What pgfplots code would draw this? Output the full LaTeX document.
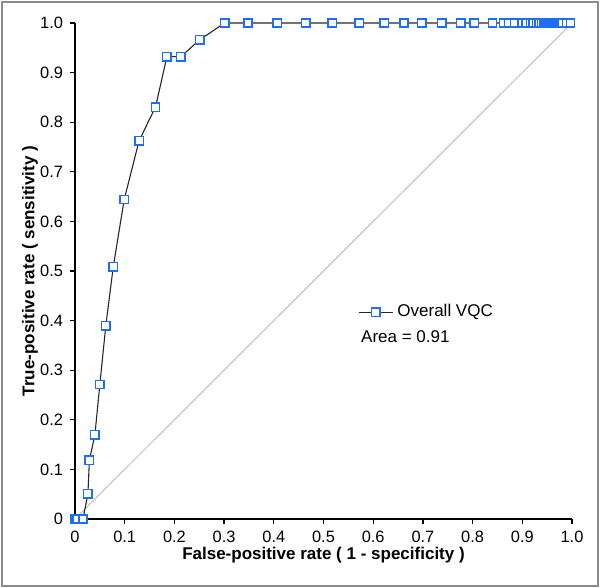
\documentclass[border=0pt]{standalone}
\usepackage{pgfplots}
\pgfplotsset{compat=1.18}
\usepackage{fontspec}
\setmainfont{Liberation Sans}
\definecolor{mk}{RGB}{30,110,245}
\definecolor{frame}{RGB}{140,140,140}
\begin{document}
\begin{tikzpicture}[x=1pt,y=1pt]
\path[use as bounding box] (-37.5,-34.5) rectangle (262.5,259.5);
\draw[frame, line width=1pt] (-36.5,-33.5) rectangle (261.5,258.5);
\begin{axis}[
  at={(0,0)}, anchor=south west,
  scale only axis, width=248.5pt, height=248pt,
  xmin=0, xmax=1, ymin=0, ymax=1,
  axis lines*=left, axis line style={-, line width=0.8pt},
  clip=false,
  tick align=outside, major tick length=2.5pt,
  tick style={black, line width=0.6pt},
  xtick={0,0.1,0.2,0.3,0.4,0.5,0.6,0.7,0.8,0.9,1},
  ytick={0,0.1,0.2,0.3,0.4,0.5,0.6,0.7,0.8,0.9,1},
  xticklabels={0,0.1,0.2,0.3,0.4,0.5,0.6,0.7,0.8,0.9,1.0},
  yticklabels={0,0.1,0.2,0.3,0.4,0.5,0.6,0.7,0.8,0.9,1.0},
  tick label style={font=\fontsize{8.2}{9}\selectfont},
  xlabel={False-positive rate ( 1 - specificity )},
  ylabel={True-positive rate ( sensitivity )},
  label style={font=\bfseries\fontsize{8.5}{10}\selectfont},
  xlabel style={at={(axis description cs:0.5,-0.072)}, anchor=center},
  ylabel style={at={(axis description cs:-0.0905,0.5)}, anchor=center},
  legend style={at={(axis cs:0.569,0.417)}, anchor=west, draw=none, fill=none, inner sep=0pt,
    font=\fontsize{8.5}{10}\selectfont},
]
\addplot[gray!45, line width=0.6pt, forget plot] coordinates {(0,0) (1,1)};
\addplot[black!85, line width=0.55pt, mark=square*, mark size=2.1pt,
  mark options={draw=mk, fill=white, line width=0.75pt}] coordinates {
(0,0) (0.004,0) (0.016,0)
(0.026,0.0508) (0.029,0.1186) (0.040,0.1695) (0.050,0.2712) (0.062,0.3898)
(0.077,0.5085) (0.099,0.6441) (0.129,0.7627) (0.162,0.8305) (0.185,0.9322)
(0.213,0.9322) (0.251,0.9661) (0.301,1) (0.348,1) (0.407,1) (0.464,1)
(0.518,1) (0.572,1) (0.622,1) (0.662,1) (0.698,1) (0.738,1) (0.776,1)
(0.803,1) (0.840,1) (0.863,1) (0.873,1) (0.885,1) (0.900,1) (0.908,1)
(0.917,1) (0.922,1) (0.929,1) (0.934,1) (0.939,1) (0.944,1) (0.948,1)
(0.952,1) (0.956,1) (0.960,1) (0.964,1) (0.968,1) (0.972,1) (0.976,1)
(0.980,1) (0.989,1) (0.997,1)
};
\addlegendentry{Overall VQC}
\node[anchor=base west, inner sep=0pt, font=\fontsize{8.5}{10}\selectfont] at (axis cs:0.575,0.355) {Area = 0.91};
\end{axis}
\end{tikzpicture}
\end{document}
